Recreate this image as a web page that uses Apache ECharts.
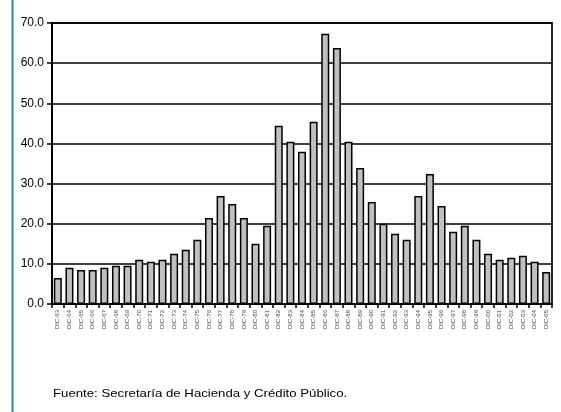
<!DOCTYPE html>
<html>
<head>
<meta charset="utf-8">
<script src="https://cdn.jsdelivr.net/npm/echarts@6/dist/echarts.min.js"></script>
<style>
  html, body { margin: 0; padding: 0; background: #fff; }
  #chart { width: 561px; height: 412px; }
</style>
</head>
<body>
<div id="chart"></div>
<script>
// Year-end (December) values, 1963–2005
const categories = [
  'DIC-63','DIC-64','DIC-65','DIC-66','DIC-67','DIC-68','DIC-69','DIC-70','DIC-71','DIC-72',
  'DIC-73','DIC-74','DIC-75','DIC-76','DIC-77','DIC-78','DIC-79','DIC-80','DIC-81','DIC-82',
  'DIC-83','DIC-84','DIC-85','DIC-86','DIC-87','DIC-88','DIC-89','DIC-90','DIC-91','DIC-92',
  'DIC-93','DIC-94','DIC-95','DIC-96','DIC-97','DIC-98','DIC-99','DIC-00','DIC-01','DIC-02',
  'DIC-03','DIC-04','DIC-05'
];
const values = [
  6.5, 9.0, 8.5, 8.5, 9.0, 9.5, 9.5, 11.0, 10.5, 11.0,
  12.5, 13.5, 16.0, 21.4, 26.9, 24.9, 21.4, 15.0, 19.5, 44.4,
  40.4, 37.9, 45.4, 67.3, 63.8, 40.4, 33.9, 25.4, 20.0, 17.5,
  16.0, 26.9, 32.4, 24.4, 18.0, 19.5, 16.0, 12.5, 11.0, 11.5,
  12.0, 10.5, 8.0
];
const yTicks = { min: 0, max: 70, step: 10 };
const sourceNote = 'Fuente: Secretaría de Hacienda y Crédito Público.';

const chart = echarts.init(document.getElementById('chart'), null, { renderer: 'canvas' });

chart.setOption({
  animation: false,
  backgroundColor: '#ffffff',
  grid: {
    left: 52, right: 9, top: 23, bottom: 108,
    show: true, borderColor: '#1e2b2b', borderWidth: 2
  },
  xAxis: {
    type: 'category',
    data: categories,
    boundaryGap: true,
    axisLine: { lineStyle: { color: '#000', width: 2 } },
    axisTick: { show: true, interval: 0, length: 4, lineStyle: { color: '#000', width: 1.5 } },
    axisLabel: {
      interval: 0, rotate: 90, fontSize: 6, color: '#444',
      fontFamily: 'Liberation Sans, Arial, sans-serif', margin: 6
    },
    splitLine: { show: false }
  },
  yAxis: {
    type: 'value',
    min: yTicks.min, max: yTicks.max, interval: yTicks.step,
    axisLine: { show: true, lineStyle: { color: '#000', width: 2 } },
    axisTick: { show: true, length: 5, lineStyle: { color: '#000', width: 1.5 } },
    axisLabel: {
      fontSize: 12, color: '#000', margin: 8,
      fontFamily: 'Liberation Sans, Arial, sans-serif',
      formatter: v => v.toFixed(1)
    },
    splitLine: { show: true, lineStyle: { color: '#000', width: 1.5 } }
  },
  series: [{
    type: 'bar',
    data: values,
    barWidth: 8,
    itemStyle: { color: '#c0c0c0', borderColor: '#000', borderWidth: 1.5 }
  }],
  graphic: [
    {
      type: 'line',
      shape: { x1: 12.5, y1: 0, x2: 12.5, y2: 412 },
      style: { stroke: '#2b8a8a', lineWidth: 2 }
    },
    {
      type: 'text',
      x: 53, y: 388,
      scaleX: 1.2,
      style: {
        text: sourceNote, fontSize: 11, fill: '#000',
        fontFamily: 'Liberation Sans, Arial, sans-serif'
      }
    }
  ]
});
</script>
</body>
</html>
